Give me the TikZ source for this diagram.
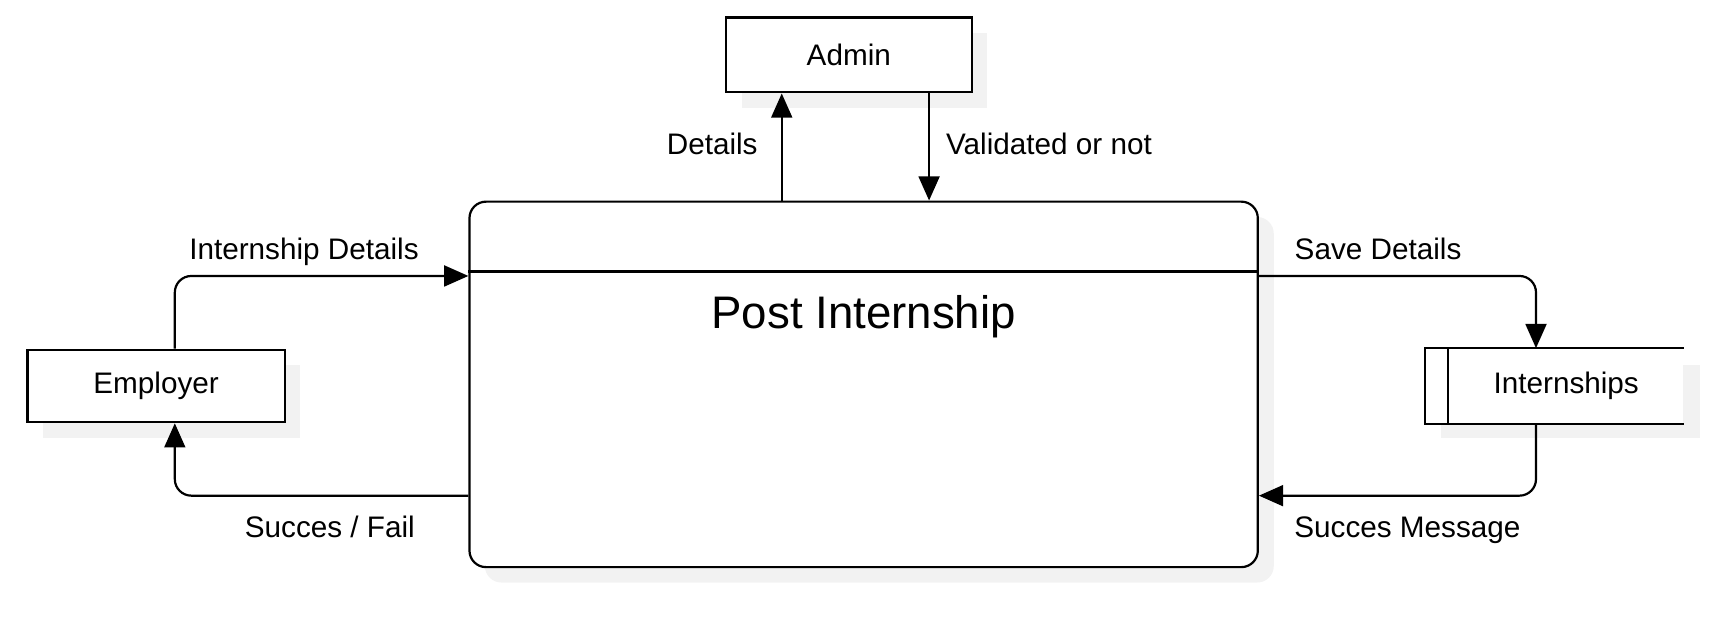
\documentclass[tikz,border=0pt]{standalone}
\usepackage{fontspec}
\setmainfont{Liberation Sans}
\usetikzlibrary{arrows.meta}

\begin{document}
\begin{tikzpicture}[x=0.5pt, y=-0.5pt, line width=1pt,
	entity/.style={draw, fill=white, rectangle, inner sep=0pt,
        font=\fontsize{13.5}{16}\selectfont},
	shadow/.style={fill=black!5, draw=none},
	flow/.style={-{Triangle[length=11pt, width=9.5pt]}, rounded corners=7.5pt},
	lbl/.style={font=\fontsize{13.5}{16}\selectfont, text height=10.1pt,
        text depth=3.4pt, inner sep=4.5pt}]

	\useasboundingbox (0,0) rectangle (1568,573);

	% shadows
	\fill[shadow] (675,30) rectangle (898,98);
	\fill[shadow] (39,332) rectangle (273,398);
	\fill[shadow] (1311,332) rectangle (1546,398);
	\fill[shadow, rounded corners=7.5pt] (441,197.4) rectangle (1158.5,529.8);

	\node[entity, minimum width=112pt, minimum height=34pt] (admin) at (772,50)
        {Admin};
	\node[entity, minimum width=117pt, minimum height=33pt] (employer)
        at (142,351) {Employer};

	\node[draw, fill=white, rounded corners=7.5pt, minimum width=358.5pt,
        minimum height=166.2pt] (proc) at (785.5,349.6) {};
	\draw ([yshift=51.3pt]proc.west) -- ([yshift=51.3pt]proc.east);
	\node[font=\fontsize{20.75}{25}\selectfont, text height=15.6pt,
        text depth=5.2pt] (title) at ([yshift=-52.8pt]proc.north)
        {Post Internship};

	\node[entity, draw=none, minimum width=106.5pt, minimum height=33.35pt]
        (store) at (1424.5,351) {Internships};
	\filldraw[fill=white] ([xshift=-10.5pt]store.north west) rectangle
        (store.south west);
	\draw ([xshift=-10.5pt]store.north west) -- (store.north east);
	\draw ([xshift=-10.5pt]store.south west) -- (store.south east);

	\draw[flow] ([xshift=-37.25pt]proc.north) -- ([xshift=-30.5pt]admin.south)
        node[lbl, midway, left=6pt] {Details};
	\draw[flow] ([xshift=36.5pt]admin.south) -- ([xshift=29.75pt]proc.north)
        node[lbl, midway, right=2.75pt] {Validated or not};

	\draw[flow] ([xshift=8.5pt]employer.north) |- ([yshift=49.3pt]proc.west)
        node[lbl, pos=0.72, above=-1pt] {Internship Details};
	\draw[flow] ([yshift=-50.6pt]proc.west) -| ([xshift=8.5pt]employer.south)
        node[lbl, pos=0.236, below=4pt] {Succes / Fail};

	\draw[flow] ([yshift=49.3pt]proc.east) -| ([xshift=-13.75pt]store.north)
        node[lbl, pos=0.215, above=-1pt] {Save Details};
	\draw[flow] ([xshift=-13.75pt]store.south) |- ([yshift=-50.6pt]proc.east)
        node[lbl, pos=0.732, below=4pt] {Succes Message};

\end{tikzpicture}
\end{document}
